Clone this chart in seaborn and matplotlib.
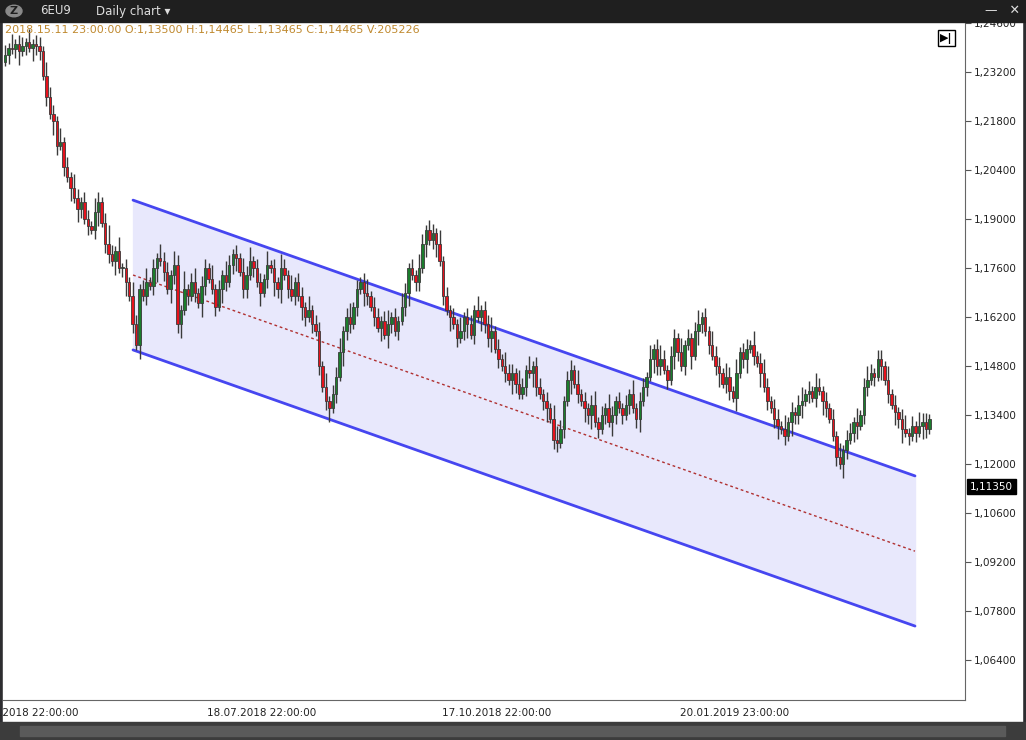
import numpy as np
import pandas as pd
import matplotlib.pyplot as plt
import seaborn as sns

# --- DATA (price * 10000) ---
closes = [12370, 12390, 12385, 12400, 12380, 12395, 12405, 12390, 12400, 12395, 12380,
          12310, 12250, 12200, 12180, 12110, 12120, 12050, 12020, 11990, 11960, 11930, 11950, 11900, 11880,
          11870, 11920, 11950, 11890, 11830, 11800, 11780, 11810, 11760, 11760, 11720, 11680, 11600, 11540,
          11700, 11680, 11720, 11710, 11760, 11790, 11780, 11750, 11700, 11740, 11770, 11600,
          11640, 11700, 11680, 11720, 11690, 11660, 11710, 11760, 11730, 11700, 11650, 11700,
          11740, 11720, 11770, 11800, 11790, 11750, 11700, 11740, 11780, 11760, 11720, 11690,
          11730, 11770, 11760, 11720, 11700, 11760, 11740, 11700, 11680, 11720, 11680, 11650,
          11620, 11640, 11600, 11580,
          11480, 11420, 11380, 11360, 11400, 11450,
          11520, 11580, 11620, 11600, 11650, 11700, 11720, 11690, 11680, 11650,
          11620, 11590, 11610, 11570, 11600, 11620, 11580, 11610, 11650, 11690,
          11760, 11740, 11720, 11760, 11830, 11870, 11840, 11860, 11830, 11780,
          11680, 11640, 11620, 11600, 11560, 11580, 11620, 11600, 11570, 11640,
          11620, 11640, 11600, 11560, 11580, 11530, 11500, 11480, 11460, 11440, 11460, 11430,
          11400, 11420, 11470, 11460, 11480, 11420, 11400, 11380, 11360, 11330,
          11270, 11260, 11300, 11380, 11440, 11470, 11430, 11400, 11380, 11360,
          11340, 11370, 11320, 11300, 11340, 11360, 11320, 11340, 11380, 11360, 11340, 11370,
          11400, 11360, 11330, 11380, 11420, 11450,
          11500, 11530, 11480, 11500, 11470, 11440, 11510, 11560, 11520, 11480, 11540, 11560,
          11510, 11580, 11600, 11620, 11580,
          11540, 11510, 11480, 11460, 11430, 11450, 11410, 11390, 11460, 11520, 11500, 11530,
          11540, 11510, 11490, 11460, 11420,
          11380, 11360, 11330, 11310, 11300, 11280, 11320, 11350, 11340, 11370, 11380, 11400,
          11410, 11390, 11420, 11410, 11380, 11360,
          11330, 11280, 11220, 11200, 11240, 11270, 11290, 11320, 11310, 11340,
          11420, 11440, 11460, 11450, 11500, 11480, 11440, 11400, 11370, 11350,
          11330, 11300, 11290, 11280, 11310, 11290, 11310, 11320, 11300, 11330]
first_open = 12350
# wick lengths in tens of pips, one digit per bar
wick_up = ("2131221312" "2132213121" "3212213212" "4213121321" "2312132213" "2141231221"
           "3121321213" "2312213121" "3213122131" "2213122312" "3121231221" "2312132121"
           "3212213121" "2131221312" "2312132213" "2131221213" "3212213121" "2312132121"
           "2131221312" "3212213121" "2312132213" "2131221312" "3212213121" "2312132121"
           "2131221312" "3212213121" "2312132213" "2131221312")
wick_dn = ("1212312132" "2121321213" "1321212312" "2131231213" "1212312132" "2312121321"
           "1213212312" "2121312132" "3121213212" "1212312132" "2121321213" "1321212312"
           "2131231213" "1212312132" "2312121321" "1213212312" "2121312132" "3121213212"
           "1212312132" "2121321213" "1321212312" "2131231213" "1212312132" "2312121321"
           "1213212312" "2121312132" "3121213212" "1212312132")

channel_x = [37.1, 263.8]
channel_upper = [1.1954, 1.1166]
channel_lower = [1.1526, 1.0737]
channel_mid = [1.1740, 1.0951]

ytick_vals = [1.246, 1.232, 1.218, 1.204, 1.190, 1.176, 1.162, 1.148, 1.134, 1.120,
              1.106, 1.092, 1.078, 1.064]
xtick_pos = [9.9, 74.5, 142.6, 211.6]
xtick_labels = [".2018 22:00:00", "18.07.2018 22:00:00", "17.10.2018 22:00:00", "20.01.2019 23:00:00"]
last_price = 1.1135

# --- build OHLC ---
n = len(closes)
c = np.array(closes) / 10000
o = np.concatenate([[first_open / 10000], c[:-1]])
wu = np.array([int(d) for d in wick_up[:n]]) * 0.0013
wd = np.array([int(d) for d in wick_dn[:n]]) * 0.0013
df = pd.DataFrame({"i": np.arange(n), "open": o, "close": c})
df["high"] = np.maximum(df.open, df.close) + wu
df["low"] = np.minimum(df.open, df.close) - wd
df["up"] = df.close >= df.open

sns.set_style("white")
plt.rcParams['font.family'] = ['DejaVu Sans']

fig = plt.figure(figsize=(10.26, 7.4), dpi=100, facecolor="#2d2d30")
W, H = 1026, 740
# white panel behind chart + axes labels
fig.patches.append(plt.Rectangle((3 / W, 18 / H), 1019 / W, 700 / H, transform=fig.transFigure,
                                 color="white", zorder=-1))
ax = fig.add_axes([3 / W, 40 / H, 962 / W, 678 / H])
ax.set_facecolor("white")

# channel
ax.fill_between(channel_x, channel_lower, channel_upper, color="#e8e8fc", zorder=1)
sns.lineplot(x=channel_x, y=channel_upper, ax=ax, color="#4646f0", lw=2, zorder=2)
sns.lineplot(x=channel_x, y=channel_lower, ax=ax, color="#4646f0", lw=2, zorder=2)
sns.lineplot(x=channel_x, y=channel_mid, ax=ax, color="#b03030", lw=1, ls=(0, (2, 2)), zorder=2)

# candles
ax.vlines(df.i, df.low, df.high, color="#3a3a3a", lw=1, zorder=3)
body_lo = np.minimum(df.open, df.close)
body_h = np.maximum(np.abs(df.close - df.open), 0.0003)
cols = np.where(df.up, "#1b7d2c", "#e6121c")
ax.bar(df.i, body_h, bottom=body_lo, width=0.7, color=cols, edgecolor="#3a3a3a", lw=0.6, zorder=4)

ax.set_xlim(-0.6, 278.3)
ax.set_ylim(1.05257, 1.2463)
ax.yaxis.tick_right()
ax.set_yticks(ytick_vals)
ax.set_yticklabels([f"{v:.5f}".replace(".", ",") for v in ytick_vals], fontsize=7.5, color="#222")
ax.set_xticks(xtick_pos)
ax.set_xticklabels(xtick_labels, fontsize=7.5, color="#222")
ax.tick_params(axis="both", length=4, color="#555", direction="out", pad=2)
for s in ["top", "left"]:
    ax.spines[s].set_visible(False)
ax.spines["right"].set_color("#666")
ax.spines["bottom"].set_color("#666")

# info line
fig.text(5 / W, 1 - 30 / H, "2018.15.11 23:00:00 O:1,13500 H:1,14465 L:1,13465 C:1,14465 V:205226",
         color="#c08a30", fontsize=8, va="center")
# price marker
yfig = (ax.transData.transform((0, last_price))[1]) / (H)
fig.text(970 / W, yfig, "1,11350", color="white", fontsize=7.5, va="center",
         bbox=dict(boxstyle="square,pad=0.25", fc="black", ec="black"))
# top toolbar
fig.patches.append(plt.Rectangle((0, 1 - 22 / H), 1, 22 / H, transform=fig.transFigure,
                                 color="#1f1f1f", zorder=5))
fig.patches.append(plt.Circle((14 / W, 1 - 11 / H), 8 / W, transform=fig.transFigure,
                              color="#8a8a8a", zorder=6))
fig.text(14 / W, 1 - 11 / H, "Z", color="#1f1f1f", fontsize=8, fontweight="bold",
         ha="center", va="center", zorder=7)
fig.text(40 / W, 1 - 11 / H, "6EU9", color="#ddd", fontsize=8.5, va="center", zorder=6)
fig.text(96 / W, 1 - 11 / H, "Daily chart ▾", color="#ddd", fontsize=8.5, va="center", zorder=6)
fig.text(985 / W, 1 - 11 / H, "—   ✕", color="#ddd", fontsize=9, va="center", zorder=6)
fig.text(940 / W, 1 - 38 / H, "▶|", color="black", fontsize=8, va="center", fontweight="bold",
         bbox=dict(boxstyle="square,pad=0.2", fc="white", ec="black"))
# bottom scrollbar
fig.patches.append(plt.Rectangle((0, 0), 1, 18 / H, transform=fig.transFigure,
                                 color="#3c3c3c", zorder=5))
fig.patches.append(plt.Rectangle((20 / W, 4 / H), 985 / W, 10 / H, transform=fig.transFigure,
                                 color="#5a5a5a", zorder=6))

fig.savefig("out.png", dpi=100, facecolor=fig.get_facecolor())
